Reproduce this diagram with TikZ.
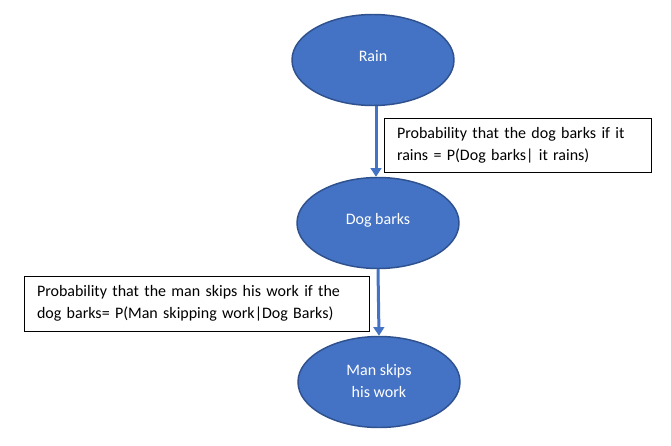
\documentclass[tikz,border=0pt]{standalone}
\usepackage{fontspec}
\setmainfont{Carlito}
\usetikzlibrary{shapes.geometric,arrows.meta}
\definecolor{blobfill}{HTML}{4472C4}
\definecolor{blobline}{HTML}{2F528F}
\begin{document}
\begin{tikzpicture}[x=0.75pt,y=-0.75pt,
  blob/.style={ellipse,draw=blobline,line width=1.1pt,fill=blobfill,text=white,
    minimum width=121.5pt,minimum height=68.25pt,inner sep=0pt,align=center,
    font=\fontsize{12pt}{16.5pt}\selectfont},
  probbox/.style={rectangle,draw=black,line width=0.75pt,fill=white,align=left,
    inner xsep=9.75pt,inner ysep=0pt,font=\fontsize{12pt}{16.5pt}\selectfont},
  arr/.style={draw=blobfill,line width=2.25pt,-{Triangle[width=8pt,length=6.5pt]}}]
\useasboundingbox (0,0) rectangle (671,446);
\fill[white] (0,0) rectangle (671,446);
\node[blob] (rain) at (373,60) {\raisebox{6.5pt}{Rain}};
\node[blob] (dog) at (378,223) {\raisebox{6.5pt}{Dog barks}};
\node[blob] (man) at (379,382) {\raisebox{3.5pt}{\begin{tabular}{@{}c@{}}Man skips\\his work\end{tabular}}};
\node[probbox,text width=180.75pt,minimum height=40.5pt] (p1) at (517.5,145)
  {Probability that the dog barks if it\\rains = P(Dog barks| it rains)};
\node[probbox,text width=239.25pt,minimum height=41.25pt] (p2) at (196.5,303.5)
  {Probability that the man skips his work if the\\dog barks= P(Man skipping work|Dog Barks)};
\draw[arr] ([xshift=2.25pt]rain.south) -- ([xshift=-1.5pt]dog.north);
\draw[arr] (dog.south) -- (man.north);
\end{tikzpicture}
\end{document}
